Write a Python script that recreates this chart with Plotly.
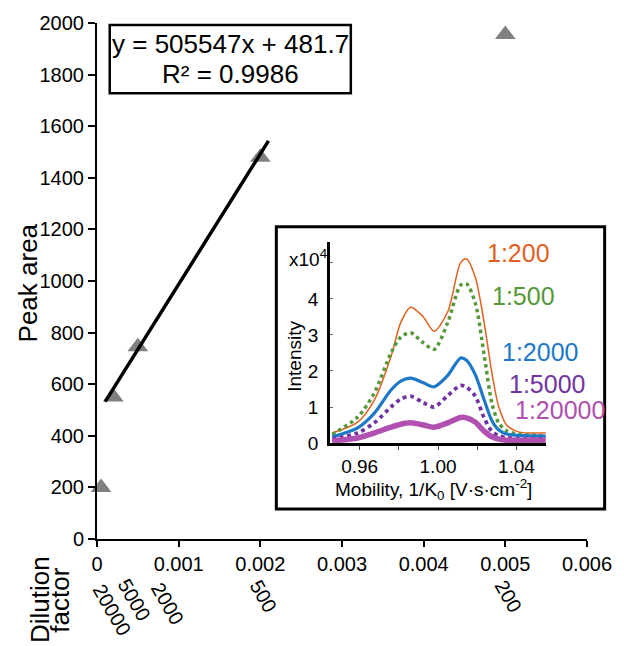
import plotly.graph_objects as go

# ---------------- data ----------------
dilution = [20000, 5000, 2000, 500, 200]
peak_area = [200, 550, 745, 1480, 1955]
fit_slope = 505547
fit_intercept = 481.7
fit_r2 = 0.9986
fit_x_range = [0.0001, 0.0021]

x_ticks = [0, 0.001, 0.002, 0.003, 0.004, 0.005, 0.006]
x_ticktext = ["0", "0.001", "0.002", "0.003", "0.004", "0.005", "0.006"]
y_ticks = [0, 200, 400, 600, 800, 1000, 1200, 1400, 1600, 1800, 2000]

# inset: intensity (x10^4) vs mobility
mobility = [0.946, 0.959, 0.9675, 0.976, 0.981, 0.986, 0.9925, 0.998, 1.005,
            1.0115, 1.0145, 1.019, 1.0235, 1.0275, 1.031, 1.035, 1.041, 1.055]
int_200 = [0.28, 0.58, 1.19, 2.40, 3.35, 3.77, 3.50, 3.10, 3.65,
           5.00, 5.11, 4.60, 3.35, 1.94, 1.00, 0.50, 0.31, 0.28]
int_500 = [0.24, 0.72, 1.39, 2.50, 2.94, 3.06, 2.78, 2.60, 3.35,
           4.38, 4.42, 3.89, 2.45, 1.10, 0.55, 0.34, 0.25, 0.19]
int_2000 = [0.17, 0.42, 0.83, 1.47, 1.72, 1.80, 1.67, 1.56, 1.88,
            2.36, 2.30, 1.90, 1.20, 0.62, 0.36, 0.25, 0.21, 0.19]
int_5000 = [0.11, 0.28, 0.56, 1.00, 1.22, 1.30, 1.12, 1.00, 1.32,
            1.60, 1.55, 1.30, 0.70, 0.32, 0.20, 0.15, 0.12, 0.11]
int_20000 = [0.06, 0.14, 0.28, 0.44, 0.52, 0.56, 0.50, 0.44, 0.56,
             0.71, 0.70, 0.58, 0.33, 0.17, 0.11, 0.08, 0.08, 0.08]
inset_names = ["1:200", "1:500", "1:2000", "1:5000", "1:20000"]
inset_x_ticks = [0.96, 0.98, 1.00, 1.02, 1.04]
inset_x_ticktext = ["0.96", "", "1.00", "", "1.04"]
inset_y_ticks = [0, 1, 2, 3, 4, 5]
inset_y_ticktext = ["0", "1", "2", "3", "4", ""]

# ---------------- styles ----------------
FONT = "Arial, Liberation Sans, sans-serif"
colors = ["#E2611F", "#55983A", "#1E78C8", "#7134A0", "#B050B0"]
widths = [1.5, 3.5, 3.2, 3.8, 5.5]
dashes = ["solid", "dot", "solid", "dot", "solid"]
# label centres (paper coords) for inset curve names
label_pos = [(0.860, 0.554), (0.870, 0.471), (0.904, 0.362), (0.918, 0.300), (0.944, 0.250)]
# pixel shifts for rotated dilution labels (to avoid overlaps, as in original)
dil_xshift = [11, 21, 30, 3, 3]
dil_ycenter = [-0.1376, -0.118, -0.126, -0.110, -0.110]

fig = go.Figure()

# main data points
xs = [1.0 / d for d in dilution]
fig.add_trace(go.Scatter(
    x=xs, y=peak_area, mode="markers",
    marker=dict(symbol="triangle-up", size=18, color="#808080"),
    cliponaxis=False, showlegend=False))

# trend line from equation
fx = fit_x_range
fy = [fit_slope * v + fit_intercept for v in fx]
fig.add_trace(go.Scatter(
    x=fx, y=fy, mode="lines", line=dict(color="black", width=3.5),
    showlegend=False))

# inset curves
series = [int_200, int_500, int_2000, int_5000, int_20000]
for name, ys, c, w, d in zip(inset_names, series, colors, widths, dashes):
    fig.add_trace(go.Scatter(
        x=mobility, y=ys, mode="lines", name=name,
        line=dict(color=c, width=w, dash=d, shape="spline", smoothing=0.8),
        xaxis="x2", yaxis="y2", showlegend=False))

annotations = []
shapes = []


def ann(x, y, text, size, color="black", angle=0, xanchor="center", xref="paper", **kw):
    d = dict(xref=xref, yref="paper", x=x, y=y, text=text, showarrow=False,
             xanchor=xanchor, yanchor="middle", textangle=angle,
             font=dict(size=size, color=color, family=FONT))
    d.update(kw)
    annotations.append(d)


# equation box
shapes.append(dict(type="rect", xref="paper", yref="paper",
                   x0=0.026, x1=0.518, y0=0.864, y1=0.996,
                   line=dict(color="black", width=2.5), fillcolor="white", layer="below"))
ann(0.272, 0.959, f"y = {fit_slope}x + {fit_intercept}", 26)
ann(0.272, 0.901, f"R² = {fit_r2}", 26)

# inset box
shapes.append(dict(type="rect", xref="paper", yref="paper",
                   x0=0.366, x1=1.036, y0=0.058, y1=0.605,
                   line=dict(color="black", width=3), fillcolor="white", layer="below"))

# inset curve labels
for name, c, (lx, ly) in zip(inset_names, colors, label_pos):
    ann(lx, ly, name, 25, color=c)

# inset axis titles
ann(0.404, 0.355, "Intensity", 19, angle=-90)
ann(0.686, 0.095, "Mobility, 1/K<sub>0</sub> [V·s·cm<sup>-2</sup>]", 19)
ann(0.474, 0.545, "x10<sup>4</sup>", 19, xanchor="right")

# main axis titles
ann(-0.14, 0.496, "Peak area", 26, angle=-90)
ann(-0.116, -0.118, "Dilution", 26, angle=-90)
ann(-0.076, -0.118, "factor", 26, angle=-90)

# rotated dilution labels
for d, xv, sh, yc in zip(dilution, xs, dil_xshift, dil_ycenter):
    ann(xv, yc, str(d), 20, angle=60, xref="x", xshift=sh)

axis_common = dict(showline=True, linecolor="black", showgrid=False, zeroline=False,
                   ticks="outside", tickcolor="black", fixedrange=True)

fig.update_layout(
    width=624, height=646,
    margin=dict(l=97, r=27, t=23, b=107),
    paper_bgcolor="white", plot_bgcolor="white",
    font=dict(family=FONT, color="black"),
    showlegend=False,
    xaxis=dict(range=[0, 0.006], tickvals=x_ticks, ticktext=x_ticktext,
               linewidth=2, ticklen=6, tickwidth=2, tickfont=dict(size=20),
               domain=[0, 1], **axis_common),
    yaxis=dict(range=[0, 2000], tickvals=y_ticks, linewidth=2, ticklen=7, tickwidth=2,
               tickfont=dict(size=20), domain=[0, 1], **axis_common),
    xaxis2=dict(range=[0.945, 1.055], domain=[0.476, 0.916], anchor="y2",
                tickvals=inset_x_ticks, ticktext=inset_x_ticktext,
                showline=True, linecolor="black", linewidth=3, showgrid=False,
                zeroline=False, ticks="outside", ticklen=4, tickwidth=1, tickcolor="#444",
                tickfont=dict(size=19), fixedrange=True),
    yaxis2=dict(range=[0, 5.58], domain=[0.186, 0.5756], anchor="x2",
                tickvals=inset_y_ticks, ticktext=inset_y_ticktext,
                showline=True, linecolor="black", linewidth=3, showgrid=False,
                zeroline=False, ticks="inside", ticklen=3, tickwidth=1, tickcolor="#666",
                tickfont=dict(size=19), ticklabelstandoff=5, fixedrange=True),
    annotations=annotations,
    shapes=shapes,
)

fig.write_html("out.html", config={"displayModeBar": False},
               post_script="document.body.style.margin='0';document.body.style.overflow='hidden';")
